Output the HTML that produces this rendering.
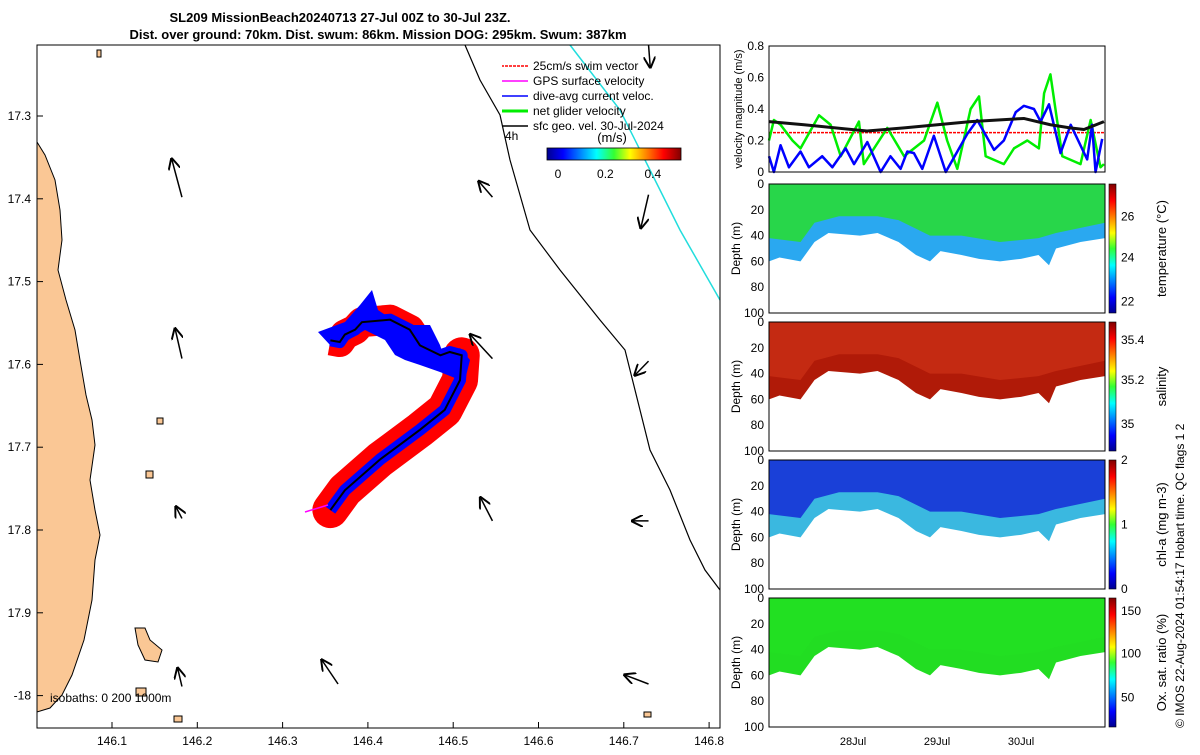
<!DOCTYPE html>
<html><head><meta charset="utf-8"><style>
body{margin:0;background:#fff;}
svg{font-family:"Liberation Sans",sans-serif;}
</style></head><body>
<svg id="s" width="1200" height="750" viewBox="0 0 1200 750" xmlns="http://www.w3.org/2000/svg">
<defs>
<linearGradient id="jet" x1="0" x2="1" y1="0" y2="0">
<stop offset="0" stop-color="#00008f"/><stop offset="0.12" stop-color="#0000ff"/><stop offset="0.37" stop-color="#00ffff"/><stop offset="0.5" stop-color="#33ff33"/><stop offset="0.62" stop-color="#ffff00"/><stop offset="0.87" stop-color="#ff0000"/><stop offset="1" stop-color="#800000"/></linearGradient>
<linearGradient id="jetv" x1="0" x2="0" y1="1" y2="0">
<stop offset="0" stop-color="#00008f"/><stop offset="0.12" stop-color="#0000ff"/><stop offset="0.37" stop-color="#00ffff"/><stop offset="0.5" stop-color="#33ff33"/><stop offset="0.62" stop-color="#ffff00"/><stop offset="0.87" stop-color="#ff0000"/><stop offset="1" stop-color="#800000"/></linearGradient>
<marker id="ah" markerWidth="8" markerHeight="8" refX="7" refY="4" orient="auto"><path d="M0,0 L8,4 L0,8" fill="none" stroke="#000" stroke-width="1.3"/></marker>
</defs>
<text x="340" y="22" font-size="13" font-weight="bold" text-anchor="middle">SL209 MissionBeach20240713 27-Jul 00Z to 30-Jul 23Z.</text>
<text x="378" y="39" font-size="13" font-weight="bold" text-anchor="middle">Dist. over ground: 70km. Dist. swum: 86km. Mission DOG: 295km. Swum: 387km</text>
<g id="map"></g>
<g id="right"></g>
<text transform="translate(1184,728) rotate(-90)" font-size="12">© IMOS 22-Aug-2024 01:54:17 Hobart time. QC flags 1  2</text>
</svg>
<script>
// ---------- map data ----------
const lonTicks=[146.1,146.2,146.3,146.4,146.5,146.6,146.7,146.8];
const latTicks=[17.3,17.4,17.5,17.6,17.7,17.8,17.9,18.0];
const latLabels=["17.3","17.4","17.5","17.6","17.7","17.8","17.9","-18"];
const trackLon=[146.356,146.373,146.414,146.461,146.490,146.508,146.510,146.496,146.485,146.461,146.449,146.426,146.393,146.385,146.373,146.367,146.356];
const trackLat=[17.776,17.752,17.715,17.679,17.655,17.619,17.589,17.585,17.589,17.577,17.558,17.546,17.549,17.558,17.564,17.573,17.571];
const arrLon=[146.182,146.182,146.182,146.182,146.365,146.546,146.546,146.546,146.729,146.729,146.729,146.729,146.729];
const arrLat=[17.398,17.593,17.786,17.989,17.986,17.398,17.593,17.789,17.395,17.214,17.596,17.789,17.986];
const arrU=[-0.012,-0.008,-0.007,-0.005,-0.019,-0.016,-0.026,-0.014,-0.009,0.002,-0.016,-0.019,-0.028];
const arrV=[-0.046,-0.036,-0.014,-0.022,-0.029,-0.019,-0.029,-0.028,0.040,0.027,0.017,0,-0.011];
const cbTicks=[0,0.2,0.4];
// ---------- velocity data ----------
const gH=[0,1.4,3.3,6.7,9,14.3,17.6,20.5,25.7,27.1,33.8,38.6,44.3,48.1,50.9,53.8,57.6,60,61.9,67.1,70,73.8,77.1,78.6,80.4,83.8,89,91.9,94.7,95.7];
const gV=[0.2,0.33,0.3,0.2,0.15,0.36,0.3,0.1,0.32,0.05,0.28,0.1,0.2,0.44,0.2,0.02,0.4,0.48,0.1,0.05,0.15,0.2,0.15,0.5,0.62,0.1,0.05,0.33,0.03,0.05];
const bH=[0,1.4,3.3,5.7,9,11.4,15.2,18.1,21.9,24.3,28.1,31.9,34.7,37.6,39.5,41.4,43.8,47.1,50.5,56.6,59.5,64.3,67.1,70.5,72.8,75.7,77.6,80,83.3,86.2,90.9,92.3,93.3,95.2];
const bV=[0.1,0,0.17,0.03,0.13,0.03,0.1,0.03,0.15,0.05,0.19,0,0.1,0.02,0.13,0.12,0.02,0.23,0,0.24,0.33,0.14,0.2,0.38,0.42,0.4,0.32,0.43,0.12,0.3,0.08,0.3,0,0.21];
const kH=[0,10,28,38.6,57.6,72.8,80.4,86,90,95.7];
const kV=[0.32,0.3,0.26,0.28,0.32,0.34,0.3,0.28,0.27,0.32];
const swimV=0.25;
const velTicks=[0,0.2,0.4,0.6,0.8];
// ---------- section data ----------
const secH=[0,3,9,13,17,26,31,37,42,46,49,55,60,66,72,77,80,82,89,96];
const bottomD=[60,57,60,45,38,40,38,45,55,60,52,55,58,60,58,55,63,50,45,42];
const clineH=[0,9,13,20,31,37,46,55,66,77,82,96];
const clineD=[42,45,30,25,25,28,40,40,45,42,38,30];
const depthTicks=[0,20,40,60,80,100];
const dayH=[24,48,72];
const dayLabels=["28Jul","29Jul","30Jul"];

const NS="http://www.w3.org/2000/svg";
function mk(p,t,a){const e=document.createElementNS(NS,t);for(const k in a)e.setAttribute(k,a[k]);p.appendChild(e);return e;}
const map=document.getElementById('map'), right=document.getElementById('right');
const mx=lon=>112+(lon-146.1)*853, my=lat=>116+(lat-17.3)*828;
let coast=mk(map,'polygon',{points:"37,142 45,155 55,180 60,210 62,240 58,270 66,300 75,330 80,360 86,395 92,420 95,445 90,480 95,510 100,535 95,560 92,600 84,640 72,675 62,695 50,708 37,712",fill:"#fac795",stroke:"#000","stroke-width":"1"});


[[135,630,"135,628 145,628 150,640 162,650 158,662 145,660 138,645"],[148,480,"146,471 153,471 153,478 146,478"],[160,420,"157,418 163,418 163,424 157,424"],[138,690,"136,688 146,688 146,696 136,696"],[176,718,"174,716 182,716 182,722 174,722"],[646,714,"644,712 651,712 651,717 644,717"],[98,52,"97,50 101,50 101,57 97,57"]].forEach(i=>{
 let e=mk(map,'polygon',{points:i[2],fill:"#fac795",stroke:"#000","stroke-width":"1"});
 
 
});
let iso=mk(map,'polyline',{points:"465,45 480,80 500,115 510,160 530,230 560,270 600,320 625,350 640,410 650,450 670,490 690,540 705,570 720,590",fill:"none",stroke:"#000","stroke-width":"1.2"});


let cy=mk(map,'polyline',{points:"570,45 620,110 650,170 680,230 720,300",fill:"none",stroke:"#22dddd","stroke-width":"1.5"});


const tp=trackLon.map((l,i)=>mx(l)+","+my(trackLat[i])).join(" ");
let red=mk(map,'polyline',{points:tp.split(" ").slice(0,7).join(" "),fill:"none",stroke:"#ff0000","stroke-width":"36","stroke-linejoin":"round","stroke-linecap":"round"});


let red2=mk(map,'polyline',{points:tp.split(" ").slice(9).join(" "),fill:"none",stroke:"#ff0000","stroke-width":"30","stroke-linejoin":"round"});


let blob=mk(map,'polygon',{points:"318,332 345,322 360,305 372,290 378,310 400,325 430,325 440,345 445,360 460,348 470,360 465,380 455,378 440,372 420,365 405,360 395,355 385,340 365,330 345,342 330,345",fill:"#0000ff"});


let blue=mk(map,'polyline',{points:tp,fill:"none",stroke:"#0000ff","stroke-width":"12","stroke-linejoin":"round"});


let trk=mk(map,'polyline',{points:tp,fill:"none",stroke:"#000","stroke-width":"2"});


let pk=mk(map,'line',{x1:328,y1:505,x2:305,y2:512,stroke:"#ff00ff","stroke-width":"1.5"});


arrLon.forEach((l,i)=>{
 const x=mx(l),y=my(arrLat[i]);
 const a=mk(map,'line',{x1:x,y1:y,x2:mx(l+arrU[i]),y2:my(arrLat[i]+arrV[i]),stroke:"#000","stroke-width":"1.5","marker-end":"url(#ah)"});
 
 
});
let fr=mk(map,'rect',{x:37,y:45,width:683,height:683,fill:"none",stroke:"#000","stroke-width":"1"});


lonTicks.forEach(v=>{const t=mk(map,'text',{x:mx(v),y:745,"font-size":"12","text-anchor":"middle"});t.textContent=v.toFixed(1);
 
 
 mk(map,'line',{x1:mx(v),x2:mx(v),y1:728,y2:722,stroke:"#000"});});
latTicks.forEach((v,i)=>{const t=mk(map,'text',{x:31,y:my(v)+4,"font-size":"12","text-anchor":"end"});t.textContent=latLabels[i];
 
 
 mk(map,'line',{x1:37,x2:43,y1:my(v),y2:my(v),stroke:"#000"});});
let isoT=mk(map,'text',{x:50,y:702,"font-size":"12"});isoT.textContent="isobaths: 0   200  1000m";


const leg=[["#ff0000","25cm/s swim vector"],["#ff00ff","GPS surface velocity"],["#0000ff","dive-avg current veloc."],["#00ee00","net glider velocity"],["#000","sfc geo. vel. 30-Jul-2024"]];
leg.forEach((e,i)=>{const y=66+i*15;
 const l=mk(map,'line',{x1:528,y1:y,x2:502,y2:y,stroke:e[0],"stroke-width":i==3?3:1.5,"stroke-dasharray":i==0?"3,1":"none"});
 
 
 const t=mk(map,'text',{x:533,y:y+4,"font-size":"12"});t.textContent=e[1];
 
 });
let h4=mk(map,'text',{x:505,y:140,"font-size":"12"});h4.textContent="4h";


let cbt=mk(map,'text',{x:612,y:142,"font-size":"13","text-anchor":"middle"});cbt.textContent="(m/s)";


let cb=mk(map,'rect',{x:547,y:148,width:134,height:12,fill:"url(#jet)",stroke:"#000","stroke-width":"0.8"});


cbTicks.forEach(v=>{const x=558+v*237;const t=mk(map,'text',{x:x,y:178,"font-size":"12","text-anchor":"middle"});t.textContent=String(v);
 
 });

const X0=769,X1=1105,tx=h=>X0+h/96*(X1-X0);
const VT=46,VB=172,vy=v=>VB-v/0.8*(VB-VT);
function line(hs,vs,col,w,name){const e=mk(right,'polyline',{points:hs.map((h,i)=>tx(h)+","+vy(vs[i])).join(" "),fill:"none",stroke:col,"stroke-width":w,"stroke-linejoin":"round"});
 
 }
let sw=mk(right,'line',{x1:X0,x2:X1,y1:vy(swimV),y2:vy(swimV),stroke:"#ff0000","stroke-width":"1.5","stroke-dasharray":"3,1"});


line(gH,gV,"#00ee00",2.5,'net-glider-velocity-line');
line(bH,bV,"#0000ff",2.5,'dive-avg-current-line');
line(kH,kV,"#111",3,'geostrophic-velocity-line');
let vf=mk(right,'rect',{x:X0,y:VT,width:X1-X0,height:VB-VT,fill:"none",stroke:"#000"});


velTicks.forEach(v=>{const t=mk(right,'text',{x:X0-5,y:vy(v)+4,"font-size":"12","text-anchor":"end"});t.textContent=String(v);
 
 });
let vl=mk(right,'text',{transform:`translate(742,${(VT+VB)/2}) rotate(-90)`,"font-size":"11","text-anchor":"middle"});vl.textContent="velocity magnitude (m/s)";


const panels=[
 {top:184,name:'temperature',upper:"#28d64a",lower:"#2aa8f0",cb:["temperature (°C)"],ticks:["26","24","22"],tp:[0.25,0.57,0.91]},
 {top:322,name:'salinity',upper:"#c42a12",lower:"#b01a08",cb:["salinity"],ticks:["35.4","35.2","35"],tp:[0.14,0.45,0.79]},
 {top:460,name:'chl-a',upper:"#1a40d8",lower:"#3ab8e0",cb:["chl-a (mg m-3)"],ticks:["2","1","0"],tp:[0,0.5,1]},
 {top:598,name:'oxygen',upper:"#22e022",lower:"#22dd22",cb:["Ox. sat. ratio (%)"],ticks:["150","100","50"],tp:[0.1,0.43,0.77]}];
const PH=129;
panels.forEach(p=>{
 const dy=d=>p.top+d/100*PH;
 const a=mk(right,'polygon',{points:`${tx(0)},${dy(0)} ${tx(96)},${dy(0)} `+secH.slice().reverse().map((h,i)=>tx(h)+","+dy(bottomD[secH.length-1-i])).join(" "),fill:p.lower});
 
 
 const b=mk(right,'polygon',{points:`${tx(0)},${dy(0)} ${tx(96)},${dy(0)} `+clineH.slice().reverse().map((h,i)=>tx(h)+","+dy(clineD[clineH.length-1-i])).join(" "),fill:p.upper});
 
 
 const f=mk(right,'rect',{x:X0,y:p.top,width:X1-X0,height:PH,fill:"none",stroke:"#000"});
 
 
 depthTicks.forEach(d=>{const t=mk(right,'text',{x:X0-5,y:dy(d)+4,"font-size":"12","text-anchor":"end"});t.textContent=String(d);
  
  });
 const yl=mk(right,'text',{transform:`translate(740,${p.top+PH/2}) rotate(-90)`,"font-size":"12","text-anchor":"middle"});yl.textContent="Depth (m)";
 
 
 const c=mk(right,'rect',{x:1109,y:p.top,width:7,height:PH,fill:"url(#jetv)",stroke:"#000","stroke-width":"0.6"});
 
 
 p.ticks.forEach((tk,i)=>{const t=mk(right,'text',{x:1121,y:p.top+p.tp[i]*PH+4,"font-size":"12"});t.textContent=tk;
  
  });
 const cl=mk(right,'text',{transform:`translate(1166,${p.top+PH/2}) rotate(-90)`,"font-size":"13","text-anchor":"middle"});cl.textContent=p.cb[0];
 
 
});
dayH.forEach((h,i)=>{const t=mk(right,'text',{x:tx(h),y:745,"font-size":"11","text-anchor":"middle"});t.textContent=dayLabels[i];
 
 });
</script>
</body></html>
